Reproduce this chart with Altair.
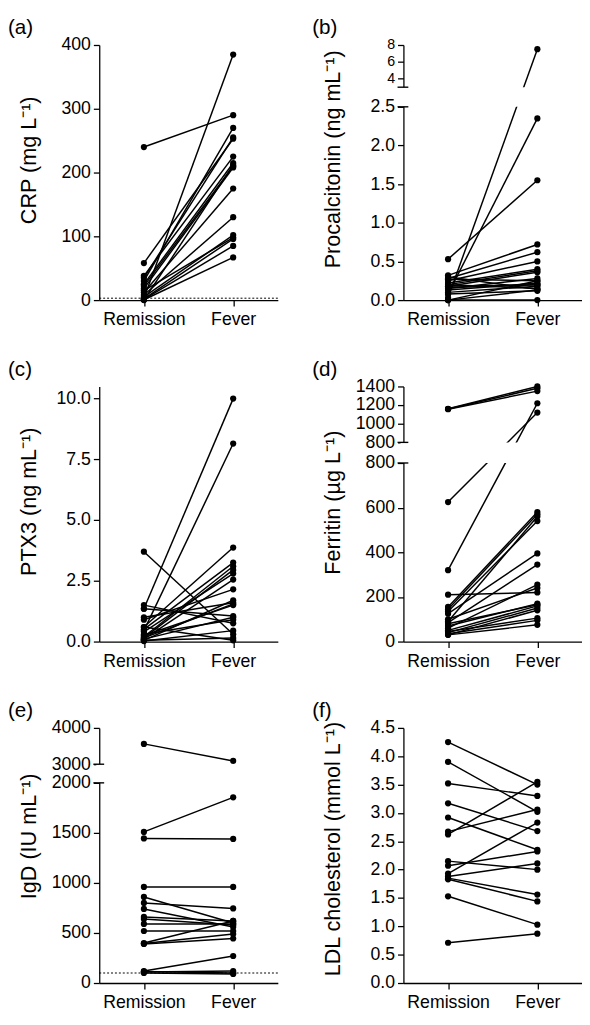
import altair as alt
import pandas as pd

# ---------------- data ----------------
conditions = ["Remission", "Fever"]

crp_remission = [240, 58, 38, 35, 30, 25, 22, 18, 3, 12, 8, 5, 15, 2, 1, 0.5, 0]
crp_fever = [290, 253, 225, 255, 270, 215, 210, 208, 385, 175, 130, 102, 98, 96, 85, 67, 212]
crp_limit = [3]

pct_remission = [0.53, 0.03, 0.08, 0.32, 0.28, 0.25, 0.22, 0.20, 0.18, 0.15, 0.27,
                 0.13, 0.16, 0.10, 0.20, 0.0, 0.0, 0.0, 0.08, 0.18, 0.30]
pct_fever = [1.55, 7.5, 2.35, 0.72, 0.62, 0.50, 0.40, 0.38, 0.36, 0.28, 0.25,
             0.22, 0.20, 0.18, 0.15, 0.13, 0.0, 0.25, 0.12, 0.20, 0.14]

ptx3_remission = [3.7, 1.35, 0.45, 0.6, 0.5, 0.2, 0.15, 0.4, 0.1, 0.9, 0.05,
                  1.0, 0.25, 1.5, 1.35, 0.1, 0.02, 0.05, 0.6, 0.15, 0.3]
ptx3_fever = [0.3, 10.0, 8.15, 3.87, 3.25, 3.1, 2.95, 2.8, 2.55, 2.15, 1.7,
              1.6, 1.5, 0.75, 1.05, 1.0, 0.45, 0.15, 0.05, 1.55, 0.9]

ferritin_remission = [1160, 1158, 1156, 625, 320, 210, 155, 145, 135, 90, 125,
                      85, 60, 100, 70, 50, 40, 30, 45, 35, 30, 80]
ferritin_fever = [1400, 1380, 1350, 1120, 1220, 220, 580, 570, 540, 560, 395,
                  345, 255, 240, 170, 160, 150, 140, 105, 95, 75, 165]

igd_remission = [3560, 1510, 1445, 960, 860, 800, 740, 660, 640, 590, 520,
                 400, 395, 390, 120, 110, 100, 115]
igd_fever = [3090, 1855, 1440, 960, 600, 745, 560, 620, 580, 590, 520,
             620, 490, 445, 270, 120, 90, 100]
igd_limit = [100]

ldl_remission = [4.25, 3.90, 3.52, 3.17, 2.92, 2.67, 2.62, 2.15, 2.07, 1.93,
                 1.88, 1.85, 1.83, 1.53, 0.71]
ldl_fever = [3.50, 3.02, 3.30, 2.68, 2.35, 3.06, 3.55, 2.00, 2.32, 2.83,
             2.11, 1.56, 1.44, 1.03, 0.87]

# axis tick values / breaks
crp_ticks = [0, 100, 200, 300, 400]
pct_ticks = [0, 0.5, 1.0, 1.5, 2.0, 2.5, 4, 6, 8]
pct_break = [2.5, 3]
ptx3_ticks = [0, 2.5, 5.0, 7.5, 10.0]
fer_ticks = [0, 200, 400, 600, 800, 800.001, 1000, 1200, 1400]
fer_break = [800, 800.001]
igd_ticks = [0, 500, 1000, 1500, 2000, 3000, 4000]
igd_break = [2000, 3000]
ldl_ticks = [0, 0.5, 1.0, 1.5, 2.0, 2.5, 3.0, 3.5, 4.0, 4.5]

W = 182
H = 260
FONT = "Liberation Sans"


def long_df(rem, fev):
    rows = []
    for i, (r, f) in enumerate(zip(rem, fev)):
        rows.append({"id": i, "cond": conditions[0], "value": r})
        rows.append({"id": i, "cond": conditions[1], "value": f})
    return pd.DataFrame(rows)


def panel(rem, fev, label, title, yscale, ticks, label_expr,
          breaks=None, limit=None, title_y=117, label_size=18):
    df = long_df(rem, fev)
    xenc = alt.X("cond:N", sort=conditions,
                 scale=alt.Scale(type="point", padding=0.5),
                 axis=alt.Axis(title=None, labelAngle=0))
    yaxis = alt.Axis(values=ticks, tickCount=len(ticks) + 5,
                     labelExpr=label_expr, title=title, labelFontSize=label_size,
                     titleX=-65, titleY=title_y, titleBaseline="alphabetic",
                     titleAngle=-90, labelOverlap=False)
    base = alt.Chart(df)
    lines = base.mark_line(color="black", strokeWidth=1.5).encode(
        x=xenc, y=alt.Y("value:Q", scale=yscale, axis=yaxis), detail="id:N")
    pts = base.mark_circle(color="black", opacity=1, size=40).encode(
        x=xenc, y=alt.Y("value:Q", scale=yscale))
    layers = [lines, pts]
    if limit is not None:
        dot = alt.Chart(pd.DataFrame({"value": limit})).mark_rule(
            color="black", strokeWidth=1, strokeDash=[2, 2]).encode(
            y=alt.Y("value:Q", scale=yscale), x=alt.value(0), x2=alt.value(W))
        layers.append(dot)
    if breaks is not None:
        gap = alt.Chart(pd.DataFrame({"value": [breaks[0]], "value2": [breaks[1]]})).mark_rect(
            color="white").encode(
            y=alt.Y("value:Q", scale=yscale), y2="value2:Q",
            x=alt.value(-3), x2=alt.value(W))
        marks = alt.Chart(pd.DataFrame({"value": breaks})).mark_rule(
            color="black", strokeWidth=1.4).encode(
            y=alt.Y("value:Q", scale=yscale), x=alt.value(-6), x2=alt.value(5))
        layers += [gap, marks]
    txt = alt.Chart(pd.DataFrame({"t": [label]})).mark_text(
        align="left", baseline="top", fontSize=21, font=FONT, color="black").encode(
        x=alt.value(-93), y=alt.value(-28), text="t:N")
    layers.append(txt)
    return alt.layer(*layers).properties(width=W, height=H)


fmt_int = "format(datum.value, 'd')"
fmt_1 = "format(datum.value, '.1f')"

pa = panel(crp_remission, crp_fever, "(a)", "CRP (mg L⁻¹)",
           alt.Scale(domain=[0, 400], nice=False, zero=False),
           crp_ticks, fmt_int, limit=crp_limit)
pb = panel(pct_remission, pct_fever, "(b)", "Procalcitonin (ng mL⁻¹)",
           alt.Scale(domain=[0, 2.5, 3, 8], range=[H, 63, 43, 0], nice=False, zero=False),
           pct_ticks, "datum.value >= 3 ? format(datum.value, 'd') : format(datum.value, '.1f')",
           breaks=pct_break, title_y=116,
           label_size={"condition": {"test": "datum.value >= 3", "value": 14.5}, "value": 18})
pc = panel(ptx3_remission, ptx3_fever, "(c)", "PTX3 (ng mL⁻¹)",
           alt.Scale(domain=[0, 10.5], nice=False, zero=False),
           ptx3_ticks, fmt_1)
pd_ = panel(ferritin_remission, ferritin_fever, "(d)", "Ferritin (µg L⁻¹)",
            alt.Scale(domain=[0, 800, 800.001, 1400], range=[H, 78, 57, 0], nice=False, zero=False),
            fer_ticks, fmt_int, breaks=fer_break, title_y=118)
pe = panel(igd_remission, igd_fever, "(e)", "IgD (IU mL⁻¹)",
           alt.Scale(domain=[0, 2000, 3000, 4000], range=[H, 56, 37, 0], nice=False, zero=False),
           igd_ticks, fmt_int, breaks=igd_break, limit=igd_limit, title_y=110)
pf = panel(ldl_remission, ldl_fever, "(f)", "LDL cholesterol (mmol L⁻¹)",
           alt.Scale(domain=[0, 4.5], nice=False, zero=False),
           ldl_ticks, fmt_1, title_y=123)

chart = alt.concat(pa, pb, pc, pd_, pe, pf, columns=2, bounds="flush",
                   spacing={"row": 88, "column": 128}).properties(
    padding=0
).configure_view(stroke=None).configure_axis(
    domainColor="black", tickColor="black", labelColor="black", titleColor="black",
    grid=False, tickSize=6, domainWidth=1.3, tickWidth=1.3,
    labelFont=FONT, titleFont=FONT, labelFontSize=18, titleFontSize=22,
    titleFontWeight="normal", labelPadding=3
).configure_axisX(labelPadding=5)

chart.save("out.html", embed_options={"renderer": "svg", "actions": False})
